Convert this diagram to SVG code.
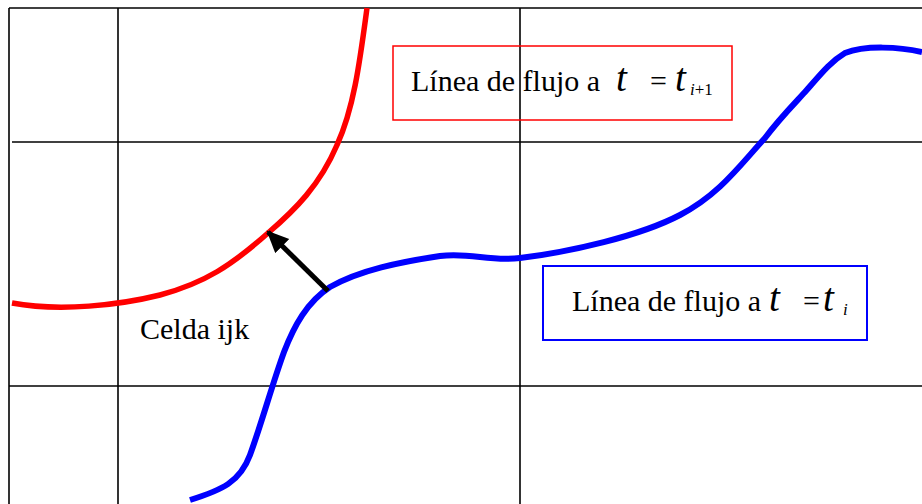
<svg xmlns="http://www.w3.org/2000/svg" width="922" height="504" viewBox="0 0 922 504">
<style>
.grid{stroke:#000;stroke-width:1.6;fill:none}
.txt{font-family:"Liberation Serif","Times New Roman",serif;font-size:30px;fill:#000}
.it{font-style:italic}
.big{font-size:39px}
.sub{font-size:17px}
</style>
<defs>
<marker id="ah" markerUnits="userSpaceOnUse" markerWidth="24" markerHeight="22" refX="20" refY="10" orient="auto">
<polygon points="0,0 22,10 0,20" fill="#000"/>
</marker>
</defs>
<rect width="922" height="504" fill="#fff"/>
<g id="grid">
<line class="grid" x1="9" y1="8" x2="922" y2="8"/>
<line class="grid" x1="9" y1="8" x2="9" y2="504"/>
<line class="grid" x1="118" y1="8" x2="118" y2="504"/>
<line class="grid" x1="520" y1="8" x2="520" y2="504"/>
<line class="grid" x1="12" y1="142" x2="922" y2="142"/>
<line class="grid" x1="9" y1="386" x2="922" y2="386"/>
</g>
<g id="red-flowline">
<path d="M367,8 C360,60 354,108 337,145 C320,185 295,210 268,233 C232,265 205,283 160,295 C120,305 60,312 12,303" fill="none" stroke="#ff0000" stroke-width="5.5"/>
</g>
<g id="blue-flowline">
<path d="M190,500 C222,490 240,482 250,455 C262,422 272,385 284,352 C294,326 307,302 330,287 C360,270 400,262 440,256 C470,252 490,262 520,258 C570,252 640,236 680,215 C720,194 740,165 765,138 C780,118 795,103 805,92 C820,75 830,62 845,53 C865,45 900,47 922,52" fill="none" stroke="#0000ff" stroke-width="6"/>
</g>
<g id="connectors">
<line x1="328" y1="291" x2="268" y2="232" stroke="#000" stroke-width="5" marker-end="url(#ah)"/>
</g>
<g id="label-red">
<rect x="393" y="46" width="339" height="74" fill="none" stroke="#ff0000" stroke-width="1.5"/>
<text class="txt" x="411" y="91">Línea de flujo a</text>
<text class="txt it big" x="616" y="91">t</text>
<text class="txt" x="650" y="91">=</text>
<text class="txt it big" x="675" y="91">t</text>
<text class="txt sub" x="690" y="95"><tspan class="it">i</tspan>+1</text>
</g>
<g id="label-blue">
<rect x="543" y="266" width="324" height="74" fill="none" stroke="#0000ff" stroke-width="2"/>
<text class="txt" x="572" y="311">Línea de flujo a</text>
<text class="txt it big" x="769" y="311">t</text>
<text class="txt" x="803" y="311">=</text>
<text class="txt it big" x="823" y="311">t</text>
<text class="txt sub it" x="843" y="315">i</text>
</g>
<g id="cell-label">
<text class="txt" x="140" y="339">Celda ijk</text>
</g>
</svg>
